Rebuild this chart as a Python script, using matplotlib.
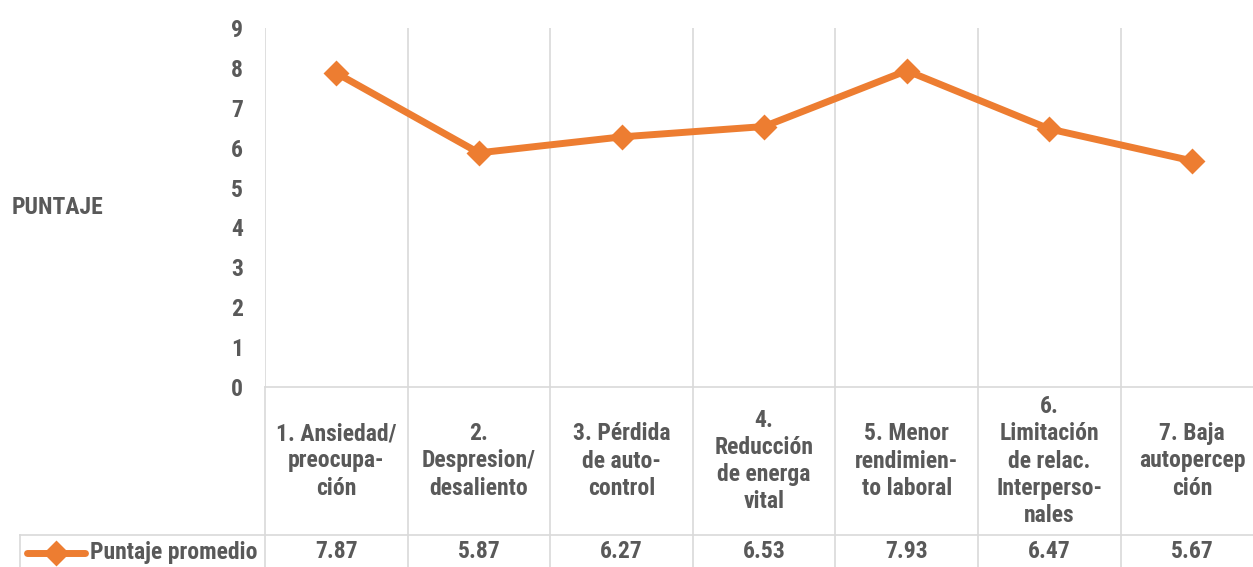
import matplotlib

matplotlib.use("Agg")
import matplotlib.pyplot as plt
from matplotlib import font_manager as fm
from matplotlib.lines import Line2D

categories = [
    "1. Ansiedad/\npreocupa-\nción",
    "2.\nDespresion/\ndesaliento",
    "3. Pérdida\nde auto-\ncontrol",
    "4.\nReducción\nde energa\nvital",
    "5. Menor\nrendimien-\nto laboral",
    "6.\nLimitación\nde relac.\nInterperso-\nnales",
    "7. Baja\nautopercep\nción",
]
puntaje = [7.87, 5.87, 6.27, 6.53, 7.93, 6.47, 5.67]
series_name = "Puntaje promedio"
y_ticks = list(range(0, 10))

ORANGE = "#ED7D31"
TEXT = "#595959"
GRID = "#D9D9D9"


def pick_font():
    # the original uses a narrow sans; take the closest one available
    fonts = fm.fontManager.ttflist
    names = {f.name for f in fonts}
    for cand in ["Liberation Sans Narrow", "Arial Narrow", "Roboto Condensed",
                 "Open Sans Condensed", "DejaVu Sans Condensed"]:
        if cand in names:
            return cand, "normal", True
    for f in fonts:
        if f.name == "DejaVu Sans" and f.stretch in ("condensed", "semi-condensed", 87, 75):
            return "DejaVu Sans", "condensed", True
    return "Roboto", "normal", False


FAMILY, STRETCH, NARROW = pick_font()
FONT = [FAMILY, "DejaVu Sans"]
FS = 17 if NARROW else 13.5
TXT = dict(family=FONT, fontsize=FS, fontweight="bold", color=TEXT,
           fontstretch=STRETCH)

W, H = 1253, 567
fig = plt.figure(figsize=(W / 100, H / 100), dpi=100)

# plot area in pixel layout of the reference
px_left, px_cell = 265, 142.6
px_top, px_zero, px_row = 28, 387, 535
n = len(categories)
ax_l = px_left / W
ax_w = n * px_cell / W
ax = fig.add_axes([ax_l, 1 - px_zero / H, ax_w, (px_zero - px_top) / H])
ax.set_xlim(0, n)
ax.set_ylim(0, 9)

xs = [i + 0.5 for i in range(n)]
ax.plot(xs, puntaje, color=ORANGE, lw=5, marker="D", ms=11, mew=2,
        mec=ORANGE, mfc=ORANGE, solid_joinstyle="round", solid_capstyle="round",
        clip_on=False, zorder=3)

for x in range(n + 1):
    ax.axvline(x, color=GRID, lw=1.2, zorder=1)
for s in ax.spines.values():
    s.set_visible(False)
ax.set_xticks([])
ax.set_yticks(y_ticks)
ax.set_yticklabels([str(t) for t in y_ticks], **TXT)
ax.tick_params(axis="y", length=0, pad=16)

fig.text(12 / W, 1 - 208 / H, "PUNTAJE", ha="left", va="center", **TXT)

# data table under the plot
tb = fig.add_axes([ax_l, 0, ax_w, 1 - px_zero / H])
tb.set_xlim(0, n)
tb.set_ylim(H, px_zero)
tb.axis("off")
left_edge = (20 - px_left) / px_cell
for x in range(n + 1):
    tb.plot([x, x], [px_zero, H], color=GRID, lw=1.2, clip_on=False)
tb.plot([0, n], [px_zero, px_zero], color=GRID, lw=1.2, clip_on=False)
tb.plot([left_edge, n], [px_row, px_row], color=GRID, lw=1.2, clip_on=False)
tb.plot([left_edge, left_edge], [px_row, H], color=GRID, lw=1.2, clip_on=False)

for x, lab, v in zip(xs, categories, puntaje):
    tb.text(x, (px_zero + px_row) / 2, lab, ha="center", va="center",
            linespacing=1.23, **TXT)
    tb.text(x, 552, f"{v:.2f}", ha="center", va="center", **TXT)

# legend key in the table
key_x0 = (27 - px_left) / px_cell
key_x1 = (85 - px_left) / px_cell
tb.add_line(Line2D([key_x0, key_x1], [553, 553], color=ORANGE, lw=5,
                   solid_capstyle="round", clip_on=False))
tb.add_line(Line2D([(key_x0 + key_x1) / 2], [553], color=ORANGE, marker="D",
                   ms=11, mew=2, mec=ORANGE, lw=0, clip_on=False))
tb.text((258 - px_left) / px_cell, 552, series_name, ha="right", va="center",
        **TXT)

fig.savefig("out.png", dpi=100)
